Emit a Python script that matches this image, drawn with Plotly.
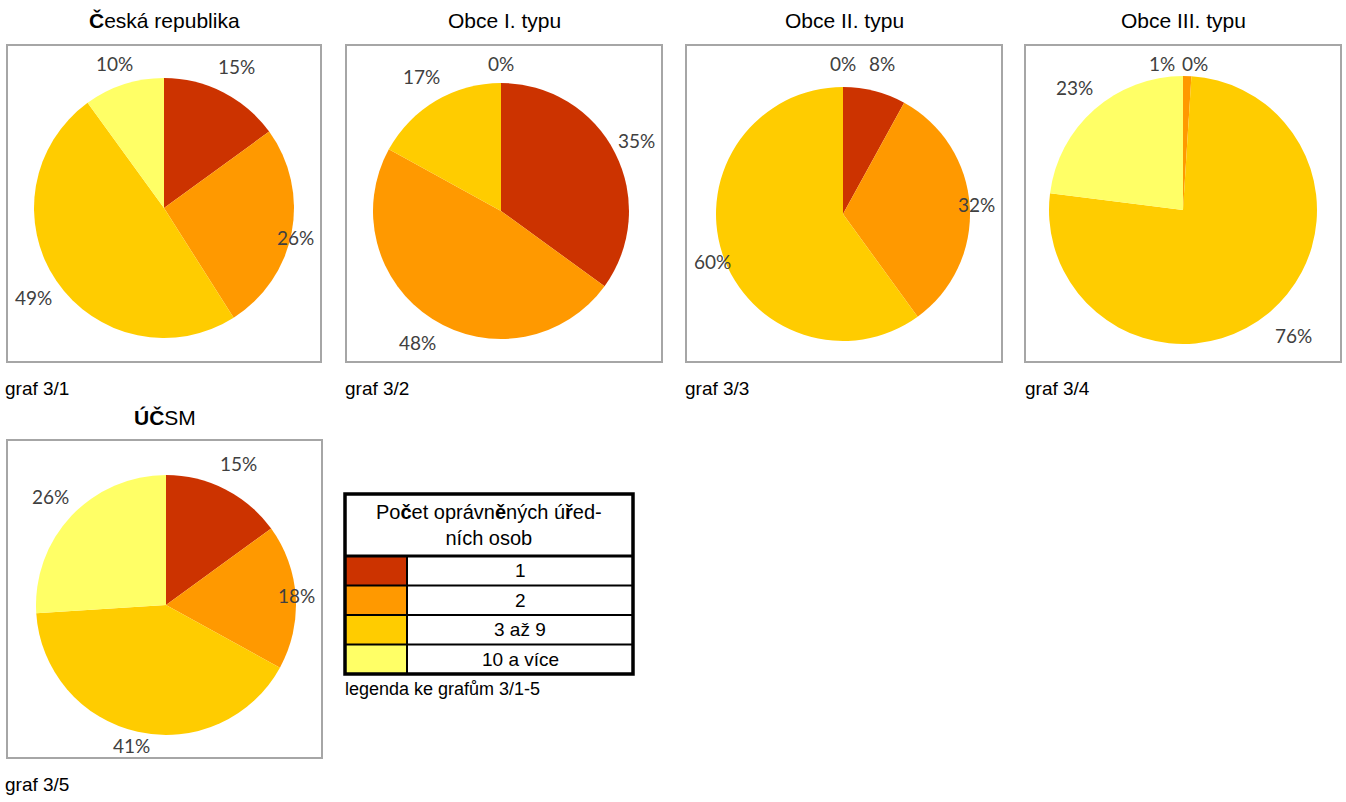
import math
import plotly.graph_objects as go

# ---------------- data ----------------
categories = ["1", "2", "3 až 9", "10 a více"]
colors = ["#CC3300", "#FF9900", "#FFCC00", "#FFFF66"]

chart_titles = ["<b>Č</b>eská republika", "Obce I. typu", "Obce II. typu",
                "Obce III. typu", "<b>ÚČ</b>SM"]
chart_captions = ["graf 3/1", "graf 3/2", "graf 3/3", "graf 3/4", "graf 3/5"]

cr_values = [15, 26, 49, 10]
obce1_values = [35, 48, 17, 0]
obce2_values = [8, 32, 60, 0]
obce3_values = [0, 1, 76, 23]
ucsm_values = [15, 18, 41, 26]

legend_title = "Po<b>č</b>et oprávn<b>ě</b>ných ú<b>ř</b>ed-<br>ních osob"
legend_caption = "legenda ke grafům 3/1-5"

series = [cr_values, obce1_values, obce2_values, obce3_values, ucsm_values]

# ---------------- layout / style ----------------
W, H = 1346, 802
NARROW = "Liberation Sans Narrow, Arial Narrow, Liberation Sans, Arial"
LABELF = "Lato, Carlito, Calibri, Open Sans, sans-serif"

# box (x0, y0, x1, y1) and pie (cx, cy, r) in pixels
boxes = [(7, 45, 321, 362), (346, 45, 662, 362), (686, 45, 1002, 362),
         (1025, 45, 1341, 362), (7, 440, 322, 758)]
pies = [(164, 208, 130), (501, 211, 128), (843, 214, 127),
        (1183, 210, 134), (166, 605, 130)]
title_y = [20, 20, 20, 20, 417]
caption_pos = [(3, 388), (343, 388), (683, 388), (1023, 388), (3, 784)]
label_factor = 1.22
nudges = {(3, 0): (12, 0), (3, 1): (-26, 0), (3, 2): (6, 0)}


def px(x):
    return x / W


def py(y):
    return 1 - y / H


fig = go.Figure()
shapes = []
annotations = []

for i, vals in enumerate(series):
    cx, cy, r = pies[i]
    bx0, by0, bx1, by1 = boxes[i]
    shapes.append(dict(type="rect", xref="paper", yref="paper",
                       x0=px(bx0), x1=px(bx1), y0=py(by1), y1=py(by0),
                       line=dict(color="#a6a6a6", width=2), fillcolor="white",
                       layer="below"))
    fig.add_trace(go.Pie(
        values=vals, labels=categories, sort=False, direction="clockwise",
        rotation=0, textinfo="none", showlegend=False, hole=0,
        marker=dict(colors=colors, line=dict(width=0)),
        domain=dict(x=[px(cx - r), px(cx + r)], y=[py(cy + r), py(cy - r)]),
    ))
    total = sum(vals)
    cum = 0
    for j, v in enumerate(vals):
        mid = (cum + v / 2) / total * 2 * math.pi
        cum += v
        lx = cx + label_factor * r * math.sin(mid)
        ly = cy - label_factor * r * math.cos(mid)
        lx = min(max(lx, bx0 + 26), bx1 - 26)
        ly = min(max(ly, by0 + 18), by1 - 13)
        dx, dy = nudges.get((i, j), (0, 0))
        lx += dx
        ly += dy
        annotations.append(dict(
            x=px(lx), y=py(ly), xref="paper", yref="paper", showarrow=False,
            text=f"{round(v / total * 100)}%", xanchor="center", yanchor="middle",
            font=dict(family=LABELF, size=19, color="#404040")))
    annotations.append(dict(
        x=px((bx0 + bx1) / 2), y=py(title_y[i]), xref="paper", yref="paper",
        showarrow=False, text=chart_titles[i], xanchor="center", yanchor="middle",
        font=dict(family=NARROW, size=21, color="black")))
    cxp, cyp = caption_pos[i]
    annotations.append(dict(
        x=px(cxp), y=py(cyp), xref="paper", yref="paper", showarrow=False,
        text=chart_captions[i], xanchor="left", yanchor="middle",
        font=dict(family=NARROW, size=19, color="black")))

# ---------------- legend table ----------------
tx0, ty0, tx1 = 345, 494, 633
header_h = 62
row_h = 29.5
colx = 407
n = len(categories)
ty1 = ty0 + header_h + n * row_h

for k, (cat, col) in enumerate(zip(categories, colors)):
    ry0 = ty0 + header_h + k * row_h
    ry1 = ry0 + row_h
    shapes.append(dict(type="rect", xref="paper", yref="paper",
                       x0=px(tx0), x1=px(colx), y0=py(ry1), y1=py(ry0),
                       fillcolor=col, line=dict(width=0)))
    if k > 0:
        shapes.append(dict(type="line", xref="paper", yref="paper",
                           x0=px(tx0), x1=px(tx1), y0=py(ry0), y1=py(ry0),
                           line=dict(color="black", width=2)))
    annotations.append(dict(
        x=px((colx + tx1) / 2), y=py((ry0 + ry1) / 2), xref="paper", yref="paper",
        showarrow=False, text=cat, xanchor="center", yanchor="middle",
        font=dict(family=NARROW, size=19, color="black")))

shapes.append(dict(type="line", xref="paper", yref="paper",
                   x0=px(colx), x1=px(colx), y0=py(ty1), y1=py(ty0 + header_h),
                   line=dict(color="black", width=2)))
shapes.append(dict(type="line", xref="paper", yref="paper",
                   x0=px(tx0), x1=px(tx1), y0=py(ty0 + header_h),
                   y1=py(ty0 + header_h), line=dict(color="black", width=3)))
shapes.append(dict(type="rect", xref="paper", yref="paper",
                   x0=px(tx0), x1=px(tx1), y0=py(ty1), y1=py(ty0),
                   line=dict(color="black", width=3.5)))
annotations.append(dict(
    x=px((tx0 + tx1) / 2), y=py(ty0 + header_h / 2), xref="paper", yref="paper",
    showarrow=False, text=legend_title, xanchor="center", yanchor="middle",
    font=dict(family=NARROW, size=20, color="black")))
annotations.append(dict(
    x=px(343), y=py(ty1 + 15), xref="paper", yref="paper", showarrow=False,
    text=legend_caption, xanchor="left", yanchor="middle",
    font=dict(family=NARROW, size=18, color="black")))

fig.update_layout(
    width=W, height=H, autosize=False,
    margin=dict(l=0, r=0, t=0, b=0),
    paper_bgcolor="white", plot_bgcolor="white",
    shapes=shapes, annotations=annotations,
)

fig.write_html("out.html",
               config={"displayModeBar": False},
               post_script="document.body.style.margin='0';"
                           "document.body.style.overflow='hidden';")
